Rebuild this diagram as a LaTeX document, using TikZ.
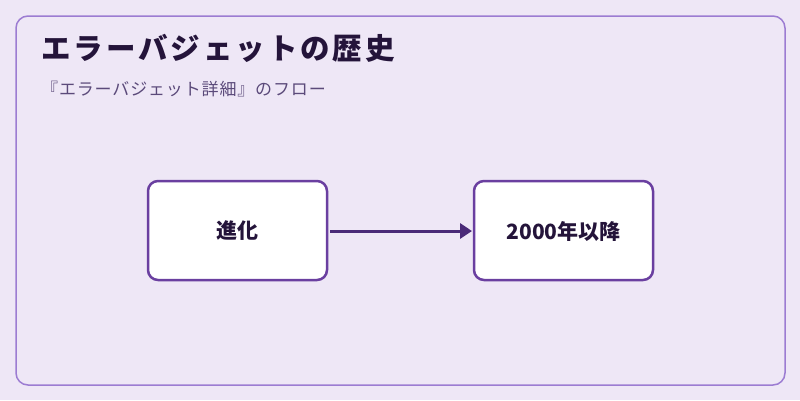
\documentclass[tikz,border=0pt]{standalone}
\usepackage{fontspec}
\setmainfont{Noto Sans CJK JP}
\newfontfamily\titlefont[LetterSpace=10]{Noto Sans CJK JP}
\newfontfamily\subfont[LetterSpace=5]{Noto Sans CJK JP}
\usetikzlibrary{arrows.meta}
\definecolor{bgc}{HTML}{EEE7F6}
\definecolor{outerc}{HTML}{9C7CD2}
\definecolor{boxc}{HTML}{6A3FA0}
\definecolor{arrc}{HTML}{4A2A78}
\definecolor{titlec}{HTML}{24143A}
\definecolor{subc}{HTML}{5B4A7A}
\tikzset{
  stepbox/.style={draw=boxc, line width=2.5pt, fill=white, rounded corners=10pt},
  boxtext/.style={text=titlec, font=\fontsize{21}{24}\selectfont\bfseries},
  flowarrow/.style={draw=arrc, line width=3pt, -{Triangle[length=12pt,width=15pt]}}
}
\begin{document}
\begin{tikzpicture}[x=1pt,y=-1pt]
\useasboundingbox (0,0) rectangle (800,400);
\fill[bgc] (0,0) rectangle (800,400);
\draw[outerc, line width=1.5pt, rounded corners=12pt] (16,16) rectangle (785,385);
\node[anchor=base west, inner sep=0pt, text=titlec, font=\titlefont\fontsize{29.5}{33}\selectfont\bfseries] (title) at (41,59) {エラーバジェットの歴史};
\node[anchor=base west, inner sep=0pt, text=subc, font=\subfont\fontsize{17}{20}\selectfont] (sub) at (41,95) {『エラーバジェット詳細』のフロー};
\draw[stepbox] (148,181) rectangle (327,280);
\node[boxtext] (a) at (237.5,231) {進化};
\draw[stepbox] (474,181) rectangle (653,280);
\node[boxtext] (b) at (563.5,231) {2000年以降};
\coordinate (as) at (330,231);
\coordinate (ae) at (472,231);
\draw[flowarrow] (as) -- (ae);
\end{tikzpicture}
\end{document}
